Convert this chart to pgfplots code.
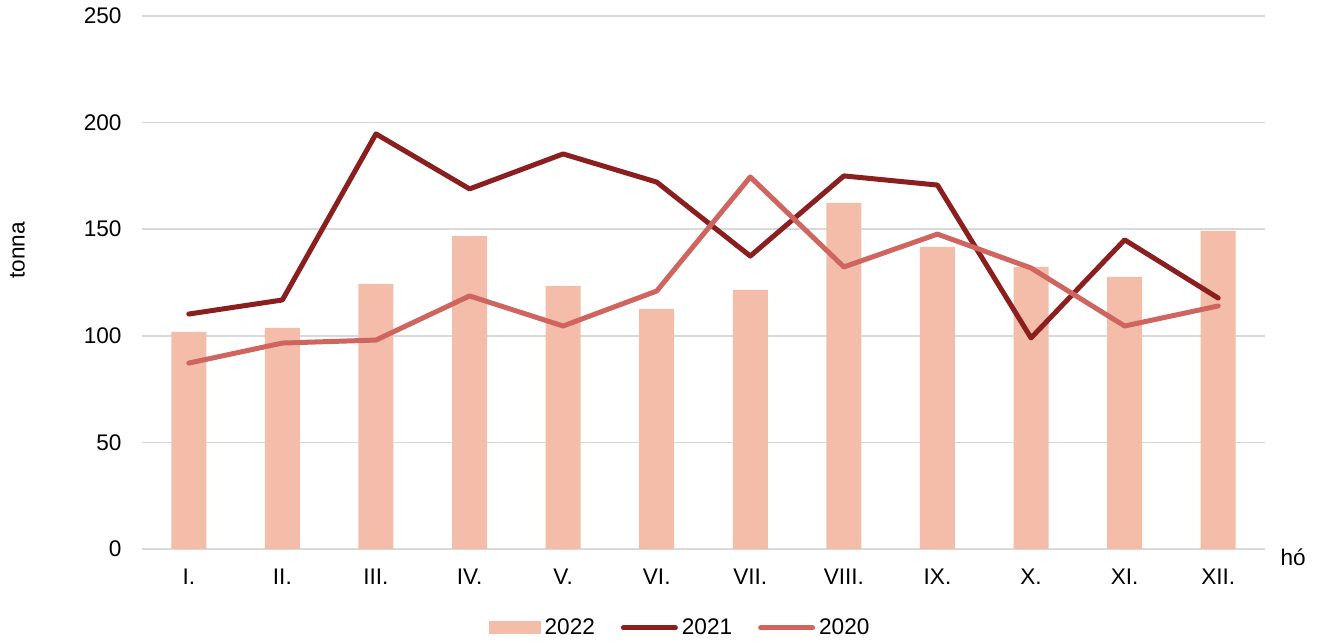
\documentclass[border=0pt]{standalone}
\usepackage{pgfplots}
\pgfplotsset{compat=1.18}
\usepackage{fontspec}
\setmainfont{Liberation Sans}
\definecolor{cbar}{HTML}{F4BDA9}
\definecolor{c21}{HTML}{8B1E1E}
\definecolor{c20}{HTML}{D06560}
\definecolor{cgrid}{HTML}{D9D9D9}
\begin{document}
\begin{tikzpicture}
\path[use as bounding box] (-71pt,-47pt) rectangle (590.5pt,274.5pt);
\begin{axis}[
  at={(0,0)}, anchor=south west,
  scale only axis, width=561.5pt, height=266.5pt,
  xmin=0.5, xmax=12.5, ymin=0, ymax=250,
  xtick={1,...,12},
  xticklabels={I.,II.,III.,IV.,V.,VI.,VII.,VIII.,IX.,X.,XI.,XII.},
  ytick={0,50,100,150,200,250},
  major tick length=0pt,
  axis x line*=bottom, axis y line*=left,
  x axis line style={draw=cgrid, line width=0.75pt, -},
  y axis line style={draw=none},
  ymajorgrids, grid style={draw=cgrid, line width=0.75pt},
  font=\fontsize{11.3pt}{13.5pt}\selectfont,
  ticklabel style={font=\fontsize{11.3pt}{13.5pt}\selectfont},
  /pgf/number format/assume math mode=true,
  xticklabel style={yshift=-6.2pt},
  yticklabel style={xshift=-6.7pt},
  ylabel={tonna},
  ylabel style={at={(axis description cs:-0.1109,0.56)}, anchor=center, rotate=0},
  xlabel={hó},
  xlabel style={at={(axis description cs:1.025,-0.015)}, anchor=center},
  legend columns=3,
  legend style={at={(axis description cs:0.480,-0.148)}, anchor=center, draw=none,
    font=\fontsize{11.3pt}{13.5pt}\selectfont,
    /tikz/every even column/.append style={column sep=11pt}},
  legend cell align=left,
]
\addplot[ybar, bar width=17.5pt, fill=cbar, draw=none,
  legend image code/.code={\fill[cbar] (0pt,-3.25pt) rectangle (26pt,3.25pt);}]
  coordinates {(1,101.8) (2,103.7) (3,124.3) (4,146.8) (5,123.4) (6,112.6) (7,121.5) (8,162.3) (9,141.7) (10,132.3) (11,127.6) (12,149.2)};
\addlegendentry{2022}
\addplot[c21, line width=2.5pt, line join=round, line cap=round,
  legend image code/.code={\draw[c21, line width=2.5pt, line cap=round] (1pt,0pt) -- (27pt,0pt);}]
  coordinates {(1,110.2) (2,116.8) (3,194.7) (4,168.9) (5,185.3) (6,172.1) (7,137.4) (8,175.0) (9,170.7) (10,99.0) (11,145.0) (12,117.7)};
\addlegendentry{2021}
\addplot[c20, line width=2.5pt, line join=round, line cap=round,
  legend image code/.code={\draw[c20, line width=2.5pt, line cap=round] (1pt,0pt) -- (27pt,0pt);}]
  coordinates {(1,87.2) (2,96.6) (3,98.0) (4,118.7) (5,104.6) (6,121.0) (7,174.5) (8,132.3) (9,147.7) (10,131.8) (11,104.6) (12,114.0)};
\addlegendentry{2020}
\end{axis}
\end{tikzpicture}
\end{document}
